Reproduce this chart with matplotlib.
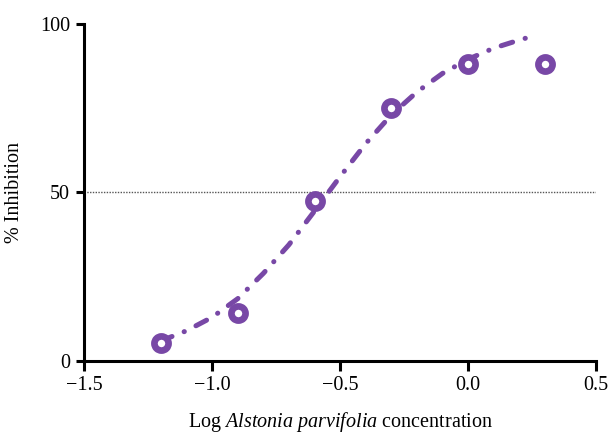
import matplotlib
matplotlib.use("Agg")
import matplotlib.pyplot as plt

plt.rcParams["font.family"] = ["Liberation Serif", "DejaVu Serif"]
plt.rcParams["mathtext.fontset"] = "custom"
plt.rcParams["mathtext.rm"] = "Liberation Serif"
plt.rcParams["mathtext.it"] = "Liberation Serif:italic"

PURPLE = "#7848A6"

# observed points (log concentration, % inhibition)
log_conc = [-1.2, -0.9, -0.6, -0.3, 0.0, 0.3]
inhibition = [5.3, 14.2, 47.5, 75.0, 88.2, 88.2]

# fitted curve
fit_x = [-1.2, -1.1, -1.0, -0.9, -0.8, -0.7, -0.6, -0.5, -0.4, -0.3,
         -0.2, -0.1, 0.0, 0.1, 0.2, 0.255]
fit_y = [6.0, 9.0, 13.0, 18.5, 26.0, 34.5, 44.5, 54.7, 64.5, 73.0,
         79.8, 85.3, 89.5, 92.8, 95.2, 96.4]

fig = plt.figure(figsize=(6.09, 4.33), dpi=100)
ax = fig.add_axes([0.138, 0.166, 0.841, 0.779])

ax.axhline(50, color="#555555", linewidth=1.0, linestyle=(0, (1, 1)), zorder=1)

ax.plot(fit_x, fit_y, color=PURPLE, linewidth=3.6,
        linestyle=(0, (2.4, 2.6, 0.05, 2.6)), dash_capstyle="round",
        solid_capstyle="round", solid_joinstyle="round", zorder=2)
ax.plot(log_conc, inhibition, linestyle="none", marker="o", markersize=10.2,
        markerfacecolor="white", markeredgecolor=PURPLE, markeredgewidth=4.8,
        zorder=3)

ax.set_xlim(-1.5, 0.5)
ax.set_ylim(0, 100)
ax.set_xticks([-1.5, -1.0, -0.5, 0.0, 0.5])
ax.set_xticklabels(["\u22121.5", "\u22121.0", "\u22120.5", "0.0", "0.5"])
ax.set_yticks([0, 50, 100])

for side in ["top", "right"]:
    ax.spines[side].set_visible(False)
for side in ["left", "bottom"]:
    ax.spines[side].set_linewidth(2.2)
ax.tick_params(axis="x", width=2.2, length=7, labelsize=14.5, pad=4)
ax.tick_params(axis="y", width=2.2, length=6, labelsize=14.5, pad=4)

ax.set_xlabel(r"Log $\mathit{Alstonia\ parvifolia}$ concentration", fontsize=14.5)
ax.xaxis.set_label_coords(0.5, -0.145)
ax.set_ylabel("% Inhibition", fontsize=14.5)
ax.yaxis.set_label_coords(-0.117, 0.5)

fig.savefig("out.png", dpi=100)
